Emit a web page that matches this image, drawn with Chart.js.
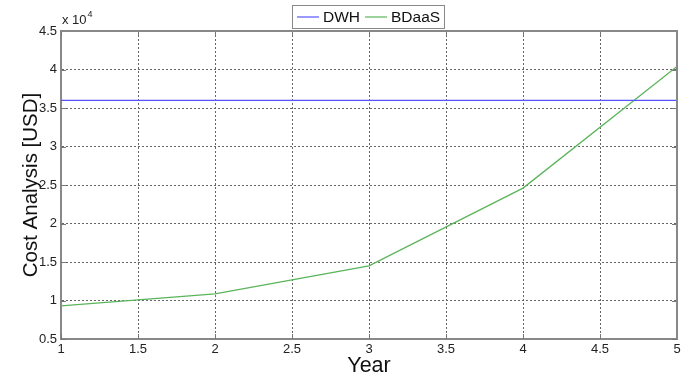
<!DOCTYPE html>
<html>
<head>
<meta charset="utf-8">
<script src="https://cdn.jsdelivr.net/npm/chart.js@4"></script>
<style>
html,body{margin:0;padding:0;background:#fff;}
#wrap{width:691px;height:376px;position:relative;}
</style>
</head>
<body>
<div id="wrap"><canvas id="c" width="691" height="376"></canvas></div>
<script>
const years = [1, 2, 3, 4, 5];
const dwhCost = [36000, 36000, 36000, 36000, 36000];
const bdaasCost = [9300, 10850, 14500, 24600, 40400];
const seriesNames = ['DWH', 'BDaaS'];
const xTitle = 'Year';
const yTitle = 'Cost Analysis [USD]';
const yExponentLabel = 'x 10';
const yExponent = '4';

const FONT = 'Arial, "Liberation Sans", sans-serif';

const boxPlugin = {
  id: 'boxPlugin',
  afterDraw(chart) {
    const {ctx, chartArea: a, scales} = chart;
    ctx.save();
    // inner ticks
    ctx.strokeStyle = '#777';
    ctx.lineWidth = 1;
    const tl = 5;
    scales.x.ticks.forEach(t => {
      const px = Math.round(scales.x.getPixelForValue(t.value)) + 0.5;
      ctx.beginPath();
      ctx.moveTo(px, a.bottom); ctx.lineTo(px, a.bottom - tl);
      ctx.moveTo(px, a.top); ctx.lineTo(px, a.top + tl);
      ctx.stroke();
    });
    scales.y.ticks.forEach(t => {
      const py = Math.round(scales.y.getPixelForValue(t.value)) + 0.5;
      ctx.beginPath();
      ctx.moveTo(a.left, py); ctx.lineTo(a.left + tl, py);
      ctx.moveTo(a.right, py); ctx.lineTo(a.right - tl, py);
      ctx.stroke();
    });
    // box top & right
    ctx.strokeStyle = '#888';
    ctx.lineWidth = 2;
    ctx.beginPath();
    ctx.moveTo(a.left, a.top); ctx.lineTo(a.right, a.top); ctx.lineTo(a.right, a.bottom);
    ctx.stroke();
    // exponent label
    ctx.fillStyle = '#222';
    ctx.font = '13px ' + FONT;
    ctx.textBaseline = 'alphabetic';
    ctx.textAlign = 'left';
    ctx.fillText(yExponentLabel, a.left + 1, a.top - 7);
    const w = ctx.measureText(yExponentLabel).width;
    ctx.font = '9px ' + FONT;
    ctx.fillText(yExponent, a.left + 1 + w + 1, a.top - 14);
    // legend
    const lx = 292, ly = 5, lw = 152, lh = 23;
    ctx.fillStyle = '#fff';
    ctx.fillRect(lx, ly, lw, lh);
    ctx.strokeStyle = '#888';
    ctx.lineWidth = 1;
    ctx.strokeRect(lx + 0.5, ly + 0.5, lw, lh);
    ctx.font = '15.5px ' + FONT;
    ctx.textBaseline = 'middle';
    const cy = ly + lh / 2 + 1;
    let x = lx + 5;
    chart.data.datasets.forEach((ds, i) => {
      ctx.strokeStyle = ds.borderColor;
      ctx.lineWidth = 1.2;
      ctx.beginPath();
      ctx.moveTo(x, cy - 0.5); ctx.lineTo(x + 22, cy - 0.5);
      ctx.stroke();
      x += 26;
      ctx.fillStyle = '#111';
      ctx.fillText(ds.label, x, cy);
      x += ctx.measureText(ds.label).width + 5;
    });
    ctx.restore();
  }
};

new Chart(document.getElementById('c'), {
  type: 'line',
  data: {
    datasets: [
      {label: seriesNames[0], data: years.map((y, i) => ({x: y, y: dwhCost[i]})), borderColor: 'rgb(85,85,255)', borderWidth: 1.3, pointRadius: 0, tension: 0, fill: false},
      {label: seriesNames[1], data: years.map((y, i) => ({x: y, y: bdaasCost[i]})), borderColor: 'rgb(90,180,90)', borderWidth: 1.3, pointRadius: 0, tension: 0, fill: false}
    ]
  },
  options: {
    responsive: false,
    animation: false,
    events: [],
    layout: {padding: {left: 0, right: 14, top: 31, bottom: 0}},
    plugins: {legend: {display: false}, tooltip: {enabled: false}},
    scales: {
      x: {
        type: 'linear', min: 1, max: 5,
        ticks: {stepSize: 0.5, padding: 3, color: '#222', font: {family: FONT, size: 13}, maxRotation: 0,
          callback: v => String(v)},
        grid: {color: '#666', lineWidth: 1, drawTicks: false},
        border: {color: '#888', width: 2, dash: [2, 2]},
        title: {display: true, text: xTitle, color: '#111', font: {family: FONT, size: 21.5}, padding: {top: 0, bottom: -3}},
        afterFit(s) { s.height = 37; }
      },
      y: {
        type: 'linear', min: 5000, max: 45000,
        ticks: {stepSize: 5000, padding: 4, color: '#222', font: {family: FONT, size: 13},
          callback: v => String(v / 10000)},
        grid: {color: '#666', lineWidth: 1, drawTicks: false},
        border: {color: '#888', width: 2, dash: [2, 2]},
        title: {display: true, text: yTitle, color: '#111', font: {family: FONT, size: 20.5}, padding: {top: 19, bottom: 0}},
        afterFit(s) { s.width = 61; }
      }
    }
  },
  plugins: [boxPlugin]
});
</script>
</body>
</html>
